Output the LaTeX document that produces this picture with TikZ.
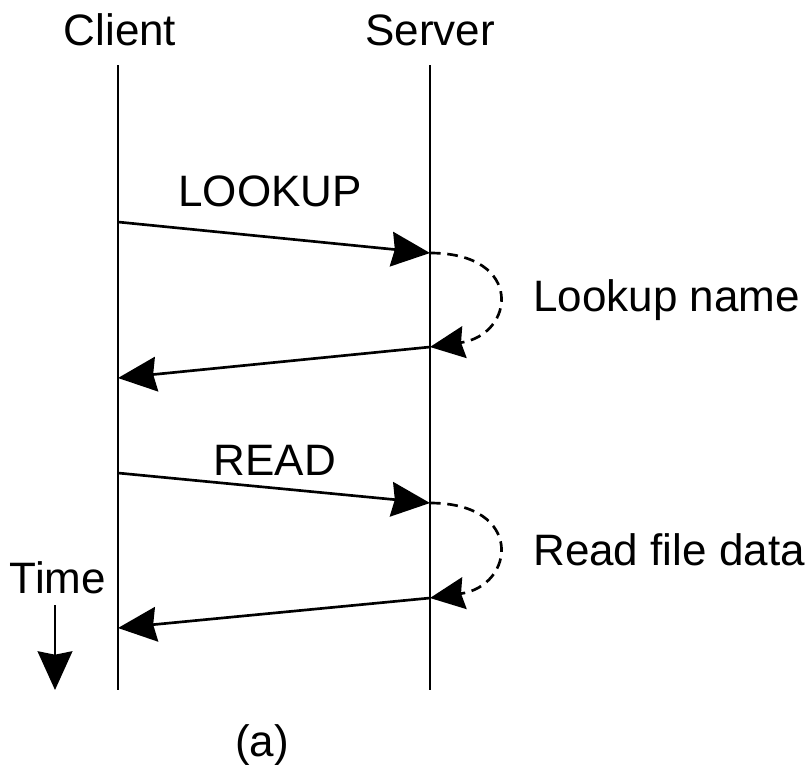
\documentclass[tikz,border=0pt]{standalone}
\usepackage{fontspec}
\setmainfont{Liberation Sans}
\usetikzlibrary{arrows.meta}
\begin{document}
\begin{tikzpicture}[x=0.75pt,y=-0.75pt,
  lifeline/.style={line width=2pt},
  msg/.style={line width=2pt,-{Stealth[length=29pt,width=26pt,inset=2.5pt]}},
  proc/.style={line width=2pt,dash pattern=on 8pt off 5pt,-{Stealth[length=26pt,width=24pt,inset=2.5pt]}},
  lbl/.style={font=\fontsize{33}{39}\selectfont,inner sep=0pt}]
\useasboundingbox (0,0) rectangle (809,764);
% lifelines
\coordinate (ctop) at (118,65);
\coordinate (cbot) at (118,690);
\coordinate (stop) at (430,65);
\coordinate (sbot) at (430,690);
\draw[lifeline] (ctop) -- (cbot);
\draw[lifeline] (stop) -- (sbot);
\node[lbl] (client) at (120,30) {Client};
\node[lbl] (server) at (430,30) {Server};
% message points
\coordinate (c1) at (118,222);
\coordinate (s1) at (430,253);
\coordinate (s2) at (430,347);
\coordinate (c2) at (118,378);
\coordinate (c3) at (118,473);
\coordinate (s3) at (430,503);
\coordinate (s4) at (430,598);
\coordinate (c4) at (118,628);
% LOOKUP
\draw[msg] (c1) -- (s1);
\node[lbl] (lookup) at (270,191) {LOOKUP};
\draw[proc] (s1) .. controls (525,253) and (515,335) .. (s2);
\node[lbl,anchor=west] (lname) at (533,300) {Lookup name};
\draw[msg] (s2) -- (c2);
% READ
\draw[msg] (c3) -- (s3);
\node[lbl] (read) at (275,460) {READ};
\draw[proc] (s3) .. controls (525,503) and (515,586) .. (s4);
\node[lbl,anchor=west] (rdata) at (533,550) {Read file data};
\draw[msg] (s4) -- (c4);
% time
\node[lbl] (time) at (58,578) {Time};
\coordinate (t1) at (55,605);
\coordinate (t2) at (55,690);
\draw[msg] (t1) -- (t2);
\node[lbl] (a) at (262,745) {(a)};
\end{tikzpicture}
\end{document}
